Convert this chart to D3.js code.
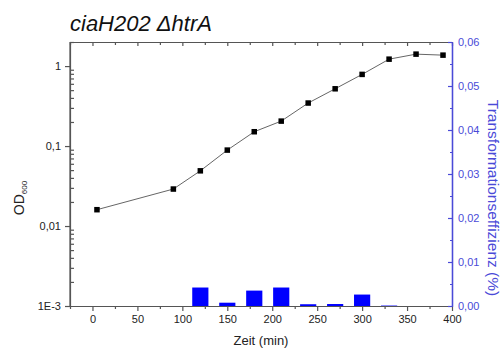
<!DOCTYPE html>
<html>
<head>
<meta charset="utf-8">
<script src="https://cdn.jsdelivr.net/npm/d3@7"></script>
<style>
  body { margin: 0; background: #fff; }
  svg { display: block; font-family: "Liberation Sans", Arial, sans-serif; }
</style>
</head>
<body>
<div id="chart"></div>
<script>
// OD600 growth curve (left, log axis)
const odTimes = [5, 90, 120, 150, 180, 210, 240, 270, 300, 330, 360, 390];
const odValues = [0.016, 0.029, 0.049, 0.089, 0.151, 0.205, 0.345, 0.52, 0.787, 1.22, 1.41, 1.37];

// transformation efficiency bars (right axis, %)
const barTimes = [120, 150, 180, 210, 240, 270, 300, 330];
const barValues = [0.0042, 0.00075, 0.0035, 0.0042, 0.0004, 0.00045, 0.0026, 0.0001];

const xTicks = [0, 50, 100, 150, 200, 250, 300, 350, 400];
const leftTicks = [0.001, 0.01, 0.1, 1];
const leftTickLabels = ["1E-3", "0,01", "0,1", "1"];
const rightTicks = [0, 0.01, 0.02, 0.03, 0.04, 0.05, 0.06];

const width = 504, height = 356;
const plotLeft = 70, plotRight = 452, plotTop = 42, plotBottom = 306;
const axisColor = "#555";
const blue = "#4a4ad8";

const svg = d3.select("#chart").append("svg")
  .attr("width", width)
  .attr("height", height);

const x = d3.scaleLinear().domain([-25, 400]).range([plotLeft, plotRight]);
const yLeft = d3.scaleLog().domain([0.001, 2]).range([plotBottom, plotTop]);
const yRight = d3.scaleLinear().domain([0, 0.06]).range([plotBottom, plotTop]);

// bars
svg.append("g").selectAll("rect")
  .data(barTimes)
  .enter()
  .append("rect")
  .attr("x", (d) => x(d - 9))
  .attr("width", (d) => x(d + 9) - x(d - 9))
  .attr("y", (d, i) => yRight(barValues[i]))
  .attr("height", (d, i) => yRight(0) - yRight(barValues[i]))
  .attr("fill", "#0000ff");

// minor tick lists
const xMinor = d3.range(-25, 401, 25).filter((d) => d % 50 !== 0);
const leftMinor = [];
[0.001, 0.01, 0.1, 1].forEach((dec) => {
  for (let k = 2; k <= 9; k++) {
    if (dec * k <= 2) leftMinor.push(dec * k);
  }
});
const rightMinor = d3.range(0.005, 0.06, 0.01);

// bottom axis
const gBottom = svg.append("g").attr("transform", `translate(0,${plotBottom})`);
gBottom.call(d3.axisBottom(x).tickValues(xTicks).tickSize(5).tickPadding(4).tickSizeOuter(0));
gBottom.append("g").call(d3.axisBottom(x).tickValues(xMinor).tickSize(3).tickFormat("").tickSizeOuter(0));

// top axis (ticks pointing in)
const gTop = svg.append("g").attr("transform", `translate(0,${plotTop})`);
gTop.call(d3.axisBottom(x).tickValues(xTicks).tickSize(4).tickFormat("").tickSizeOuter(0));
gTop.append("g").call(d3.axisBottom(x).tickValues(xMinor).tickSize(3).tickFormat("").tickSizeOuter(0));

// left log axis
const gLeft = svg.append("g").attr("transform", `translate(${plotLeft},0)`);
gLeft.call(d3.axisLeft(yLeft).tickValues(leftTicks)
  .tickFormat((d, i) => leftTickLabels[i]).tickSize(5).tickPadding(4).tickSizeOuter(0));
gLeft.append("g").call(d3.axisRight(yLeft).tickValues(leftMinor).tickSize(4).tickFormat("").tickSizeOuter(0));
gLeft.select(".domain").attr("d", `M0,${plotTop}V${plotBottom}`);

// right linear axis
const gRight = svg.append("g").attr("transform", `translate(${plotRight},0)`);
gRight.call(d3.axisRight(yRight).tickValues(rightTicks)
  .tickFormat((d) => d3.format(".2f")(d).replace(".", ",")).tickSize(0).tickPadding(6).tickSizeOuter(0));
gRight.append("g").call(d3.axisLeft(yRight).tickValues(rightTicks).tickSize(4).tickFormat("").tickSizeOuter(0));
gRight.append("g").call(d3.axisLeft(yRight).tickValues(rightMinor).tickSize(2).tickFormat("").tickSizeOuter(0));

[gBottom, gTop, gLeft].forEach((g) => {
  g.selectAll("path, line").attr("stroke", axisColor).attr("stroke-width", 1.2);
  g.selectAll("text").attr("fill", "#222").attr("font-size", 11)
    .attr("font-family", "Liberation Sans, Arial, sans-serif");
});
gRight.selectAll("path, line").attr("stroke", blue).attr("stroke-width", 1.2);
gRight.selectAll("text").attr("fill", blue).attr("font-size", 11)
  .attr("font-family", "Liberation Sans, Arial, sans-serif");

// OD line + markers
const line = d3.line()
  .x((d) => x(d[0]))
  .y((d) => yLeft(d[1]));
const odPoints = odTimes.map((t, i) => [t, odValues[i]]);

svg.append("path")
  .datum(odPoints)
  .attr("d", line)
  .attr("fill", "none")
  .attr("stroke", "#666")
  .attr("stroke-width", 1);

svg.append("g").selectAll("rect")
  .data(odPoints)
  .enter()
  .append("rect")
  .attr("x", (d) => x(d[0]) - 2.75)
  .attr("y", (d) => yLeft(d[1]) - 2.75)
  .attr("width", 5.5)
  .attr("height", 5.5)
  .attr("fill", "#000");

// title
svg.append("text")
  .attr("x", 70)
  .attr("y", 31)
  .attr("font-size", 22)
  .attr("font-style", "italic")
  .attr("fill", "#111")
  .text("ciaH202 ΔhtrA");

// x label
svg.append("text")
  .attr("x", 261)
  .attr("y", 345)
  .attr("text-anchor", "middle")
  .attr("font-size", 13)
  .attr("fill", "#222")
  .text("Zeit (min)");

// left y label
const od = svg.append("text")
  .attr("transform", "translate(24,198) rotate(-90)")
  .attr("text-anchor", "middle")
  .attr("font-size", 14)
  .attr("fill", "#222");
od.append("tspan").text("OD");
od.append("tspan").attr("font-size", 8).attr("dy", 3).text("600");

// right y label
svg.append("text")
  .attr("transform", "translate(488,198) rotate(90)")
  .attr("text-anchor", "middle")
  .attr("font-size", 15.5)
  .attr("fill", blue)
  .text("Transformationseffizienz (%)");
</script>
</body>
</html>
